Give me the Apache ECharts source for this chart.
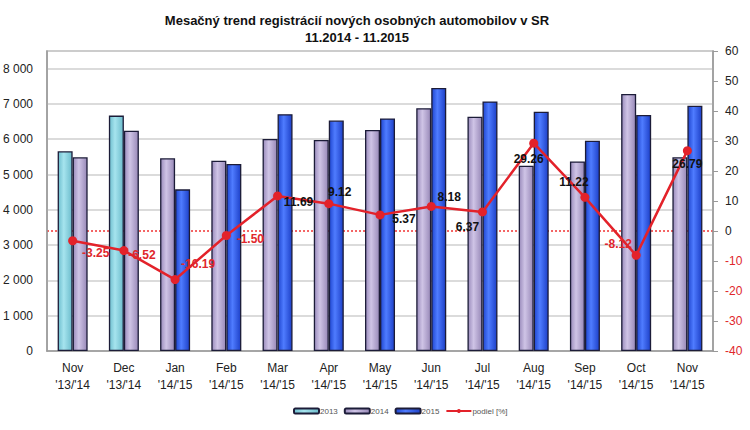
<!DOCTYPE html>
<html>
<head>
<meta charset="utf-8">
<script src="https://cdn.jsdelivr.net/npm/echarts@6/dist/echarts.min.js"></script>
<style>html,body{margin:0;padding:0;background:#fff}#c{width:750px;height:430px}</style>
</head>
<body>
<div id="c"></div>
<script>
// ---- data ----
var categories = ["Nov\n'13/'14","Dec\n'13/'14","Jan\n'14/'15","Feb\n'14/'15","Mar\n'14/'15","Apr\n'14/'15","May\n'14/'15","Jun\n'14/'15","Jul\n'14/'15","Aug\n'14/'15","Sep\n'14/'15","Oct\n'14/'15","Nov\n'14/'15"];
var v2013 = [5660, 6670, null, null, null, null, null, null, null, null, null, null, null];
var v2014 = [5490, 6240, 5460, 5390, 6010, 5980, 6260, 6880, 6640, 5250, 5370, 7280, 5490];
var v2015 = [null, null, 4580, 5300, 6710, 6530, 6590, 7450, 7070, 6780, 5960, 6690, 6950];
var podiel = [-3.25, -6.52, -16.19, -1.50, 11.69, 9.12, 5.37, 8.18, 6.37, 29.26, 11.22, -8.12, 26.79];
var leftTicks = {min: 0, max: 8500, interval: 1000};
var rightTicks = {min: -40, max: 60, interval: 10};

// ---- styles (label offsets relative to point) ----
var labelOffsets = [[23,12],[18,4],[23,-16],[24,3],[21,6],[11,-12],[24,4],[18,-9],[-15,15],[-5,16],[-11,-15],[-18,-11],[0,13]];

function grad(c1, c2, c3) {
  return new echarts.graphic.LinearGradient(0, 0, 1, 0, [
    {offset: 0, color: c1}, {offset: 0.4, color: c2}, {offset: 1, color: c3}
  ]);
}
var col2013 = grad('#6fbfcf', '#a6e4ee', '#6cbccc');
var col2014 = grad('#9a8cbc', '#cfc4e6', '#9889b8');
var col2015 = grad('#1f46d0', '#4f7cff', '#1d40c8');
var borderC = '#1c1c38';

// build the two bar slots from the arrays
var left13 = v2013.map(function (v) { return v == null ? null : v; });
var left14 = v2014.map(function (v, i) { return v2013[i] == null ? v : null; });
var right14 = v2014.map(function (v, i) { return v2013[i] != null ? v : null; });
var right15 = v2015.map(function (v) { return v == null ? null : v; });

var lineData = podiel.map(function (v, i) {
  return {
    value: v,
    label: {
      offset: labelOffsets[i],
      color: v < 0 ? '#e0262c' : '#111'
    }
  };
});

function barSeries(name, stack, data, color) {
  return {
    name: name, type: 'bar', stack: stack, data: data,
    barWidth: 15, barGap: '0%',
    itemStyle: {color: color, borderColor: borderC, borderWidth: 1.3},
    emphasis: {disabled: true}
  };
}

// zero reference line on the right axis: only the split line at value 0 is coloured
var zeroRed = '#f03030';
var rightSplitColors = [];
for (var t = rightTicks.min; t <= rightTicks.max; t += rightTicks.interval) {
  rightSplitColors.push(t === 0 ? zeroRed : 'rgba(0,0,0,0)');
}

var chart = echarts.init(document.getElementById('c'), null, {renderer: 'svg'});
chart.setOption({
  animation: false,
  backgroundColor: '#fff',
  title: {
    text: 'Mesačný trend registrácií nových osobných automobilov v SR\n11.2014 - 11.2015',
    left: 352, top: 7, textAlign: 'center',
    textStyle: {fontFamily: 'Liberation Sans', fontWeight: 'bold', fontSize: 13, color: '#111', lineHeight: 17}
  },
  legend: {
    data: ['2013', '2014', '2015', 'podiel [%]'],
    left: 288, top: 402,
    itemWidth: 25, itemHeight: 5, itemGap: 6,
    textStyle: {fontSize: 8, color: '#555', fontFamily: 'Liberation Sans', padding: [0, 0, 0, -4]}
  },
  grid: {left: 46, right: 37, top: 51, bottom: 79, show: true, borderColor: '#b0b0b0', borderWidth: 1.5},
  xAxis: {
    type: 'category', data: categories,
    axisLine: {onZero: false, lineStyle: {color: '#999', width: 1.5}},
    axisTick: {show: false},
    axisLabel: {color: '#222', fontSize: 12, fontFamily: 'Liberation Sans', lineHeight: 17, margin: 8}
  },
  yAxis: [{
    type: 'value', min: leftTicks.min, max: leftTicks.max, interval: leftTicks.interval,
    axisLine: {show: true, lineStyle: {color: '#999', width: 1.5}},
    axisTick: {show: false},
    splitLine: {lineStyle: {color: '#cfcfcf', width: 1.5}},
    axisLabel: {
      color: '#222', fontSize: 12, fontFamily: 'Liberation Sans', margin: 14, showMaxLabel: false,
      formatter: function (v) { return String(v).replace(/\B(?=(\d{3})+(?!\d))/g, ' '); }
    }
  }, {
    type: 'value', position: 'right', min: rightTicks.min, max: rightTicks.max, interval: rightTicks.interval,
    axisLine: {show: true, lineStyle: {color: '#999', width: 1.5}},
    axisTick: {show: true, length: 5, lineStyle: {color: '#999'}},
    splitLine: {show: true, lineStyle: {color: rightSplitColors, type: [2, 2], width: 1.6}},
    axisLabel: {
      fontSize: 12, fontFamily: 'Liberation Sans', margin: 12,
      color: function (v) { return Number(v) < 0 ? '#e0262c' : '#222'; }
    }
  }],
  series: [
    barSeries('2013', 'L', left13, col2013),
    barSeries('2014', 'L', left14, col2014),
    barSeries('2014', 'R', right14, col2014),
    barSeries('2015', 'R', right15, col2015),
    {
      name: 'podiel [%]', type: 'line', yAxisIndex: 1, data: lineData, z: 10,
      symbol: 'circle', symbolSize: 9,
      lineStyle: {color: '#e3222a', width: 2.5},
      itemStyle: {color: '#e3222a'},
      label: {
        show: true, position: 'inside', fontSize: 12, fontWeight: 'bold', fontFamily: 'Liberation Sans',
        formatter: function (p) { return p.value.toFixed(2); }
      },
      emphasis: {disabled: true}
    }
  ]
});
</script>
</body>
</html>
